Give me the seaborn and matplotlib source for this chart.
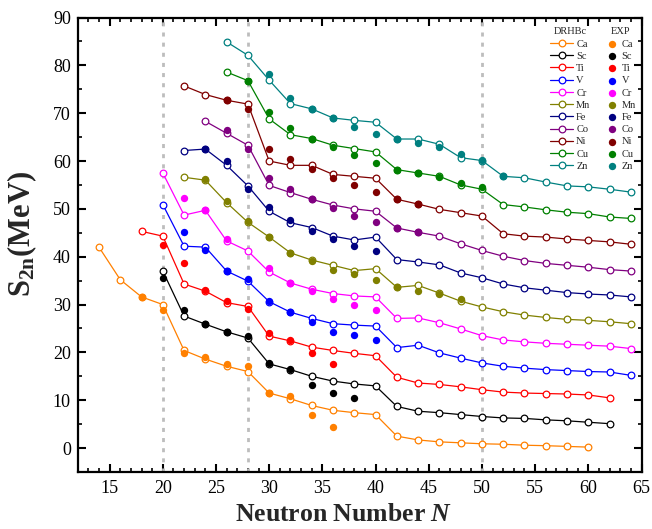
import numpy as np
import pandas as pd
import matplotlib
matplotlib.use("Agg")
import matplotlib.pyplot as plt
import seaborn as sns
from matplotlib.ticker import MultipleLocator

# ---- data: two-neutron separation energies (MeV), each element offset for display ----
elements = ["Ca", "Sc", "Ti", "V", "Cr", "Mn", "Fe", "Co", "Ni", "Cu", "Zn"]
colors = ["#FF8000", "#000000", "#FF0000", "#0000FF", "#FF00FF", "#808000",
          "#000080", "#800080", "#800000", "#008000", "#008080"]

# first even neutron number of each DRHBc chain and of each measured chain
drhbc_first_n = [14, 20, 18, 20, 20, 22, 22, 24, 22, 26, 26]
exp_first_n = [18, 20, 20, 22, 22, 24, 24, 26, 26, 28, 30]

# DRHBc values on consecutive even N
ca_drhbc = [42.0, 35.2, 31.6, 30.0, 20.4, 18.6, 17.1, 16.0, 11.5, 10.3, 8.9, 7.9,
            7.4, 7.0, 2.5, 1.7, 1.3, 1.1, 0.9, 0.8, 0.6, 0.5, 0.35, 0.2]
sc_drhbc = [37.0, 27.6, 25.9, 24.3, 23.0, 17.6, 16.4, 15.0, 14.0, 13.4, 13.0, 8.7,
            7.7, 7.4, 7.0, 6.6, 6.3, 6.2, 5.9, 5.7, 5.4, 5.1]
ti_drhbc = [45.3, 44.3, 34.3, 32.8, 30.4, 29.6, 23.4, 22.4, 21.1, 20.4, 19.8, 19.3,
            14.8, 13.6, 13.3, 12.8, 12.2, 11.7, 11.5, 11.4, 11.3, 11.1, 10.5]
v_drhbc = [50.9, 42.2, 42.0, 37.0, 34.9, 30.6, 28.4, 27.1, 26.0, 25.7, 25.5, 21.0,
           21.5, 19.9, 18.8, 17.8, 17.1, 16.7, 16.4, 16.2, 16.0, 15.9, 15.2]
cr_drhbc = [57.5, 48.7, 49.7, 43.3, 41.2, 36.8, 34.5, 33.2, 32.3, 31.8, 31.6, 27.1,
            27.2, 26.2, 24.9, 23.5, 22.6, 22.2, 21.9, 21.7, 21.5, 21.3, 20.8]
mn_drhbc = [56.6, 56.0, 51.3, 47.2, 44.1, 40.8, 39.3, 38.2, 37.1, 37.5, 33.6, 34.0,
            32.4, 30.7, 29.5, 28.5, 27.8, 27.3, 26.9, 26.7, 26.4, 26.0]
fe_drhbc = [62.2, 62.5, 59.1, 54.8, 49.5, 47.1, 46.1, 44.3, 43.5, 44.1, 39.4, 38.9,
            38.3, 36.6, 35.6, 34.3, 33.5, 33.0, 32.5, 32.2, 32.0, 31.6]
co_drhbc = [68.3, 65.8, 63.3, 54.9, 53.4, 52.0, 50.8, 50.0, 49.5, 46.0, 45.1, 44.3,
            42.7, 41.3, 40.1, 39.2, 38.6, 38.2, 37.8, 37.3, 37.0]
ni_drhbc = [75.7, 73.9, 72.7, 71.9, 60.0, 59.1, 59.1, 57.2, 56.8, 56.4, 52.0, 51.0,
            49.9, 49.2, 48.5, 44.8, 44.3, 44.1, 43.7, 43.4, 43.1, 42.6]
cu_drhbc = [78.6, 76.8, 68.8, 65.5, 64.7, 63.3, 62.6, 61.9, 58.2, 57.5, 56.8, 55.0,
            54.1, 50.9, 50.4, 49.8, 49.3, 49.0, 48.3, 48.0]
zn_drhbc = [84.9, 82.1, 76.9, 72.0, 70.9, 69.0, 68.5, 68.1, 64.6, 64.6, 63.5, 60.7,
            60.1, 56.8, 56.5, 55.6, 54.8, 54.6, 54.1, 53.5]

# measured values on consecutive even N (nan = no measurement)
ca_exp = [31.6, 28.8, 19.8, 19.0, 17.6, 17.2, 11.5, 10.9, 7.0, 4.5]
sc_exp = [35.6, 28.8, 25.9, 24.3, 23.5, 17.7, 16.6, 13.2, 11.6, 10.5]
ti_exp = [42.4, 38.6, 33.0, 30.7, 29.1, 24.1, 22.5, 19.8, 17.6]
v_exp = [45.1, 41.3, 37.1, 35.4, 30.7, 28.5, 26.4, 24.2, 23.6, 22.6]
cr_exp = [52.2, 49.7, 43.6, np.nan, 37.7, 34.5, 32.8, 31.1, 30.0, 28.8]
mn_exp = [56.2, 51.6, 47.4, 44.1, 40.8, 39.2, 37.3, 36.3, 35.1, 33.6, 32.9, 32.3, 31.1]
fe_exp = [62.6, 60.0, 54.2, 50.4, 47.6, 45.4, 43.7, 42.2, 41.2]
co_exp = [66.5, 62.6, 56.5, 54.1, 52.0, 50.1, 48.5, 47.2, 46.0, 45.1]
ni_exp = [72.7, 70.8, 62.6, 60.5, 58.4, 56.5, 55.0, 53.6, 52.0, 51.1]
cu_exp = [76.8, 70.3, 66.8, 64.7, 63.0, 61.2, 59.5, 58.2, 57.5, 56.6, 55.5, 54.6]
zn_exp = [78.1, 73.2, 70.9, 69.0, 67.2, 65.7, 64.6, 63.8, 62.9, 61.4, 60.3, 56.8]

magic_numbers = [20, 28, 50]

drhbc_values = [ca_drhbc, sc_drhbc, ti_drhbc, v_drhbc, cr_drhbc, mn_drhbc,
                fe_drhbc, co_drhbc, ni_drhbc, cu_drhbc, zn_drhbc]
exp_values = [ca_exp, sc_exp, ti_exp, v_exp, cr_exp, mn_exp,
              fe_exp, co_exp, ni_exp, cu_exp, zn_exp]


def long_table(first_ns, series):
    rows = []
    for el, n0, vals in zip(elements, first_ns, series):
        for i, v in enumerate(vals):
            rows.append({"element": el, "N": n0 + 2 * i, "S2n": v})
    return pd.DataFrame(rows)


drhbc_df = long_table(drhbc_first_n, drhbc_values)
exp_df = long_table(exp_first_n, exp_values).dropna()

# ---- style ----
sns.set_theme(style="ticks")
plt.rcParams["font.family"] = ["Liberation Serif", "DejaVu Serif"]
plt.rcParams["mathtext.fontset"] = "custom"
plt.rcParams["mathtext.rm"] = "Liberation Serif"
plt.rcParams["mathtext.it"] = "Liberation Serif:italic"
plt.rcParams["mathtext.bf"] = "Liberation Serif:bold"
try:
    plt.rcParams["mathtext.bfit"] = "Liberation Serif:bold:italic"
except KeyError:
    pass

fig = plt.figure(figsize=(6.52, 5.29), dpi=100)
W, H = 652, 529
ax = fig.add_axes([77.7 / W, (H - 472) / H, 563.8 / W, 454.5 / H])

for x in magic_numbers:
    ax.axvline(x, color="#BDBDBD", lw=2.0, ls=(0, (1.45, 2.2)), zorder=1)

line_handles = []
dot_handles = []
for el, c in zip(elements, colors):
    sub = drhbc_df[drhbc_df["element"] == el]
    sns.lineplot(data=sub, x="N", y="S2n", color=c, lw=0.9, marker="o",
                 markersize=4.8, mfc="white", mec=c, mew=0.9, ax=ax, zorder=2)
    line_handles.append(ax.lines[-1])

for el, c in zip(elements, colors):
    sub = exp_df[exp_df["element"] == el]
    sns.scatterplot(data=sub, x="N", y="S2n", color=c, s=28, linewidth=0,
                    ax=ax, zorder=3)
    dot_handles.append(ax.collections[-1])

ax.set_xlim(12, 65)
ax.set_ylim(-5, 90)
ax.xaxis.set_major_locator(MultipleLocator(5))
ax.xaxis.set_minor_locator(MultipleLocator(1))
ax.yaxis.set_major_locator(MultipleLocator(10))
ax.yaxis.set_minor_locator(MultipleLocator(5))
ax.tick_params(which="both", direction="in", top=True, right=True,
               colors="black", labelsize=13)
ax.tick_params(which="major", length=5.5, width=1.5)
ax.tick_params(which="minor", length=2.8, width=1.2)
ax.tick_params(axis="x", pad=6)
ax.tick_params(axis="y", pad=5)
for s in ax.spines.values():
    s.set_linewidth(1.6)
    s.set_color("black")

ax.set_xlabel(r"Neutron Number $\mathbfit{N}$", fontsize=18.5, fontweight="bold")
ax.set_ylabel(r"$\mathbf{S}_{\mathbf{2n}}$(MeV)", fontsize=22, fontweight="bold")
ax.xaxis.set_label_coords(0.472, -0.068)
ax.yaxis.set_label_coords(-0.068, 0.524)

leg_kw = dict(frameon=False, fontsize=7.5, title_fontsize=7.5, loc="upper left",
              borderpad=0, labelspacing=0.28, handletextpad=0.3,
              borderaxespad=0)
leg1 = ax.legend(line_handles, elements, title="DRHBc", handlelength=2.2,
                 bbox_to_anchor=(0.838, 0.978), **leg_kw)
ax.add_artist(leg1)
leg2 = ax.legend(dot_handles, elements, title="EXP", handlelength=1.2,
                 bbox_to_anchor=(0.937, 0.978), **leg_kw)

fig.savefig("out.png", dpi=100)
